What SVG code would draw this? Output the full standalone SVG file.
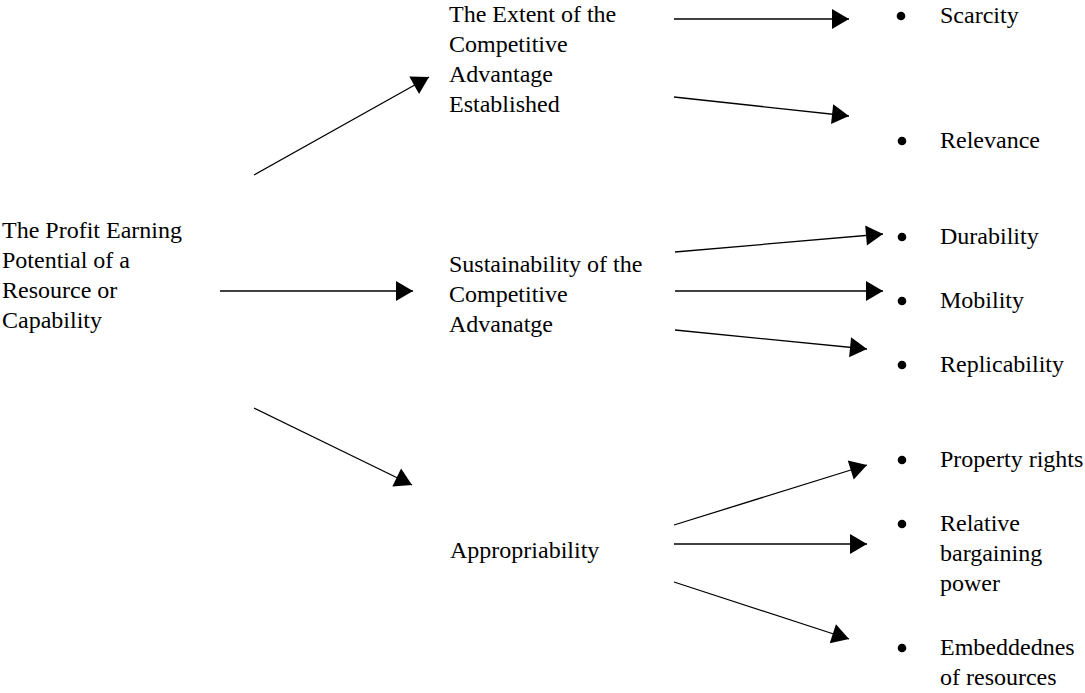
<svg xmlns="http://www.w3.org/2000/svg" width="1085" height="693" viewBox="0 0 1085 693">
  <style>
    .lbl { font-family: "Liberation Serif", "Times New Roman", serif; font-size: 24px; fill: #000; }
    .conn { stroke: #000; stroke-width: 1.3; fill: none; marker-end: url(#head); }
    .dot { fill: #000; }
  </style>
  <defs>
    <marker id="head" markerUnits="userSpaceOnUse" markerWidth="18" markerHeight="20" refX="17" refY="10" orient="auto" overflow="visible">
      <path d="M0,0 L17,10 L0,20 Z" fill="#000"/>
    </marker>
  </defs>
  <rect width="1085" height="693" fill="#fff"/>

  <!-- connectors -->
  <g id="connectors">
    <line class="conn" x1="254" y1="175" x2="429" y2="77"/>
    <line class="conn" x1="220" y1="291" x2="413" y2="291"/>
    <line class="conn" x1="254" y1="408" x2="412" y2="485"/>

    <line class="conn" x1="674" y1="19" x2="849" y2="19"/>
    <line class="conn" x1="674" y1="97" x2="849" y2="116"/>

    <line class="conn" x1="675" y1="252" x2="883" y2="234"/>
    <line class="conn" x1="675" y1="291" x2="883" y2="291"/>
    <line class="conn" x1="675" y1="330" x2="867" y2="349"/>

    <line class="conn" x1="674" y1="525" x2="867" y2="465"/>
    <line class="conn" x1="674" y1="544" x2="867" y2="544"/>
    <line class="conn" x1="674" y1="582" x2="849" y2="639"/>
  </g>

  <!-- root concept -->
  <g id="profit-potential">
    <text class="lbl" x="2" y="238">The Profit Earning</text>
    <text class="lbl" x="2" y="268">Potential of a</text>
    <text class="lbl" x="2" y="298">Resource or</text>
    <text class="lbl" x="2" y="328">Capability</text>
  </g>

  <!-- three determinants -->
  <g id="extent">
    <text class="lbl" x="449" y="22">The Extent of the</text>
    <text class="lbl" x="449" y="52">Competitive</text>
    <text class="lbl" x="449" y="82">Advantage</text>
    <text class="lbl" x="449" y="112">Established</text>
  </g>
  <g id="sustainability">
    <text class="lbl" x="449" y="272">Sustainability of the</text>
    <text class="lbl" x="449" y="302">Competitive</text>
    <text class="lbl" x="449" y="332">Advanatge</text>
  </g>
  <g id="appropriability">
    <text class="lbl" x="450" y="558">Appropriability</text>
  </g>

  <!-- bullet items -->
  <g id="scarcity">
    <circle class="dot" cx="901" cy="16" r="4.3"/>
    <text class="lbl" x="940" y="23">Scarcity</text>
  </g>
  <g id="relevance">
    <circle class="dot" cx="902" cy="141" r="4.3"/>
    <text class="lbl" x="940" y="148">Relevance</text>
  </g>
  <g id="durability">
    <circle class="dot" cx="902" cy="237" r="4.3"/>
    <text class="lbl" x="940" y="244">Durability</text>
  </g>
  <g id="mobility">
    <circle class="dot" cx="902" cy="301" r="4.3"/>
    <text class="lbl" x="940" y="308">Mobility</text>
  </g>
  <g id="replicability">
    <circle class="dot" cx="902" cy="365" r="4.3"/>
    <text class="lbl" x="940" y="372">Replicability</text>
  </g>
  <g id="property-rights">
    <circle class="dot" cx="902" cy="460" r="4.3"/>
    <text class="lbl" x="940" y="467">Property rights</text>
  </g>
  <g id="bargaining-power">
    <circle class="dot" cx="902" cy="524" r="4.3"/>
    <text class="lbl" x="940" y="531">Relative</text>
    <text class="lbl" x="940" y="561">bargaining</text>
    <text class="lbl" x="940" y="591">power</text>
  </g>
  <g id="embeddedness">
    <circle class="dot" cx="902" cy="648" r="4.3"/>
    <text class="lbl" x="940" y="655">Embeddednes</text>
    <text class="lbl" x="940" y="685">of resources</text>
  </g>
</svg>
